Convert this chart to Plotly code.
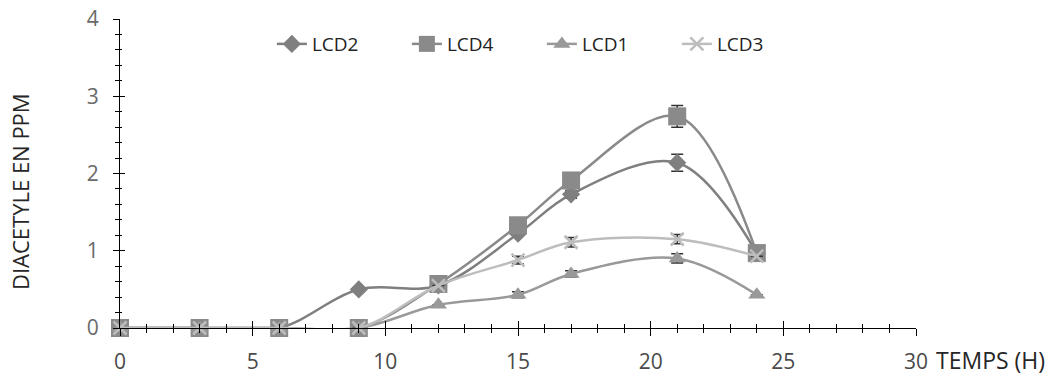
import plotly.graph_objects as go

hours = [0, 3, 6, 9, 12, 15, 17, 21, 24]
lcd2 = [0, 0, 0, 0.50, 0.55, 1.22, 1.73, 2.14, 0.97]
lcd2_err = [0, 0, 0, 0, 0, 0.03, 0.05, 0.11, 0]
lcd4 = [0, 0, 0, 0, 0.57, 1.33, 1.91, 2.74, 0.97]
lcd4_err = [0, 0, 0, 0, 0, 0, 0, 0.14, 0]
lcd1 = [0, 0, 0, 0, 0.30, 0.43, 0.70, 0.90, 0.43]
lcd1_err = [0, 0, 0, 0, 0, 0.04, 0.04, 0.06, 0]
lcd3 = [0, 0, 0, 0, 0.55, 0.88, 1.11, 1.15, 0.93]
lcd3_err = [0, 0, 0, 0, 0, 0.05, 0.06, 0.06, 0]

FONT = "Open Sans"
fig = go.Figure()

series = [
    ("LCD2", lcd2, lcd2_err, "#7f7f7f", "diamond", 14),
    ("LCD4", lcd4, lcd4_err, "#8a8a8a", "square", 18),
    ("LCD1", lcd1, lcd1_err, "#999999", "triangle-up", 15),
    ("LCD3", lcd3, lcd3_err, "#bdbdbd", "x-thin", 13),
]
for name, ys, err, col, sym, sz in series:
    marker = dict(symbol=sym, size=sz, color=col)
    if sym == "x-thin":
        marker["line"] = dict(color=col, width=2.5)
    fig.add_trace(go.Scatter(
        x=hours, y=ys, name=name, mode="lines+markers",
        line=dict(color=col, width=2.5, shape="spline", smoothing=1.0),
        marker=marker,
        error_y=dict(type="data", array=err, visible=True, color="#333333",
                     thickness=1.5, width=6),
        cliponaxis=False,
    ))

# invisible trace to materialise the overlay axes (crossing ticks)
fig.add_trace(go.Scatter(x=[None], y=[None], xaxis="x2", yaxis="y2",
                         showlegend=False, hoverinfo="skip"))

axis_common = dict(showgrid=False, zeroline=False, showline=True, automargin=False,
                   linecolor="#000000", linewidth=1.2, tickcolor="#000000")
fig.update_layout(
    width=1050, height=376,
    margin=dict(l=120, r=134, t=19, b=48),
    paper_bgcolor="white", plot_bgcolor="white",
    font=dict(family=FONT, size=16, color="#595959"),
    xaxis=dict(range=[0, 30], tickmode="linear", tick0=0, dtick=5,
               ticks="outside", ticklen=7, tickwidth=1.2, ticklabelstandoff=8,
               ticklabeloverflow="allow",
               minor=dict(dtick=1, ticks="outside", ticklen=4, tickcolor="#000000"),
               tickfont=dict(size=21, color="#4a4a4a"), **axis_common),
    yaxis=dict(range=[0, 4], tickmode="linear", tick0=0, dtick=1,
               ticks="outside", ticklen=6, tickwidth=1.2, ticklabelstandoff=10,
               ticklabeloverflow="allow",
               minor=dict(dtick=0.2, ticks="outside", ticklen=4, tickcolor="#000000"),
               tickfont=dict(size=21, color="#6a6a6a"), **axis_common),
    xaxis2=dict(range=[0, 30], overlaying="x", side="bottom", anchor="y",
                tickmode="linear", tick0=0, dtick=5, ticks="inside", ticklen=7,
                tickwidth=1.2, showticklabels=False,
                minor=dict(dtick=1, ticks="inside", ticklen=4, tickcolor="#000000"),
                **axis_common),
    yaxis2=dict(range=[0, 4], overlaying="y", side="left", anchor="x",
                tickmode="linear", tick0=0, dtick=1, ticks="inside", ticklen=5,
                tickwidth=1.2, showticklabels=False,
                minor=dict(dtick=0.2, ticks="inside", ticklen=2, tickcolor="#000000"),
                **axis_common),
    legend=dict(orientation="h", x=0.53, xanchor="center", y=0.919, yanchor="middle",
                font=dict(family=FONT, size=19, color="#222222"),
                bgcolor="rgba(255,255,255,0)", entrywidth=90, entrywidthmode="pixels"),
    annotations=[
        dict(text="DIACETYLE EN PPM", xref="paper", yref="paper", x=-0.1256, y=0.44,
             textangle=-90, showarrow=False, xanchor="center", yanchor="middle",
             font=dict(family=FONT, size=22, color="#262626")),
        dict(text="TEMPS (H)", xref="paper", yref="paper", x=1.022, y=0,
             showarrow=False, xanchor="left", yanchor="top", yshift=-14,
             font=dict(family=FONT, size=23, color="#262626")),
    ],
)

fig.write_html("out.html", config={"displayModeBar": False},
               post_script="document.body.style.margin='0';")
